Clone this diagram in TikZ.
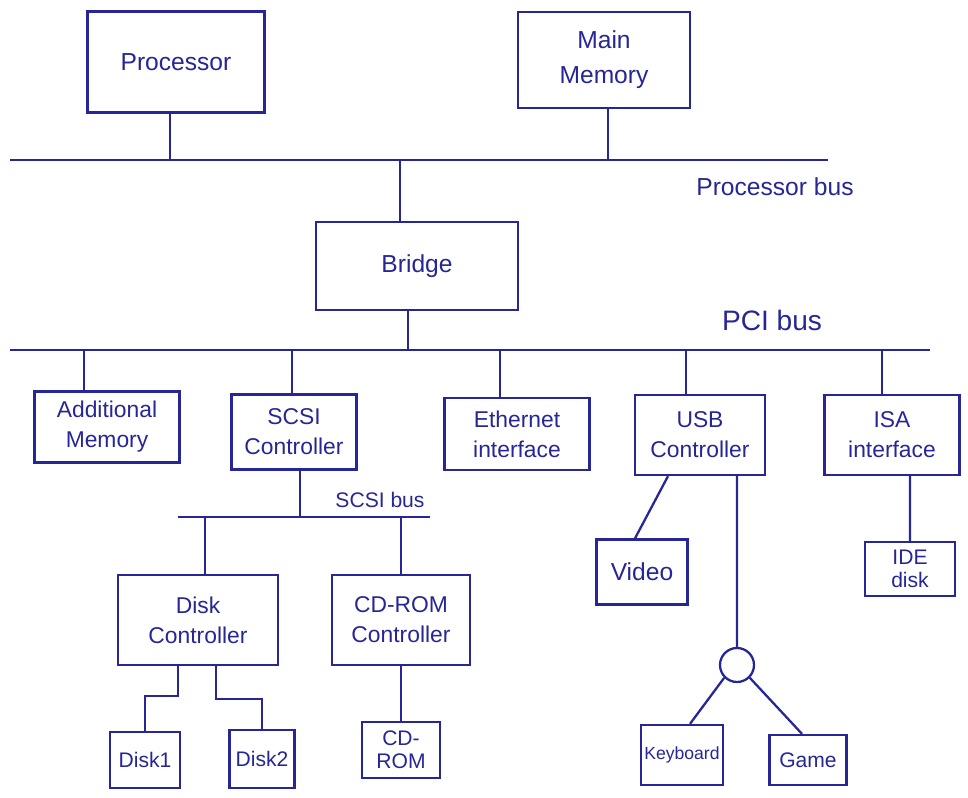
\documentclass[tikz,border=0pt]{standalone}
\usepackage{fontspec}
\setmainfont{Liberation Sans}
\definecolor{ink}{RGB}{38,38,150}

\begin{document}
\begin{tikzpicture}[x=0.02cm, y=-0.02cm, line width=1.3pt, color=ink,
    box/.style={draw, align=center, inner sep=2pt},
    bigfont/.style={font=\fontsize{14}{20}\selectfont},
    midfont/.style={font=\fontsize{13}{17}\selectfont},
    smallfont/.style={font=\fontsize{12}{13}\selectfont}]
    \useasboundingbox (0,0) rectangle (968,798);

    % Processor, main memory and the processor bus between them.
    \node[box, bigfont, minimum width=3.54cm, minimum height=2.02cm] (proc) at (176,62) {Processor};
    \node[box, bigfont, minimum width=3.44cm, minimum height=1.92cm] (mem) at (604,60) {Main\\Memory};
    \coordinate (pbusW) at (10,160);
    \coordinate (pbusE) at (828,160);
    \draw (pbusW) -- (pbusE);
    \node[bigfont] (pbuslbl) at (775,187) {Processor bus};
    \draw ([xshift=-0.12cm]proc.south) -- ([xshift=-0.12cm]proc.south |- pbusW);
    \draw ([xshift=0.08cm]mem.south) -- ([xshift=0.08cm]mem.south |- pbusW);

    % Bridge down to the PCI bus.
    \node[box, bigfont, minimum width=4.04cm, minimum height=1.76cm] (bridge) at (417,266) {Bridge};
    \draw ([xshift=-0.34cm]bridge.north) -- ([xshift=-0.34cm]bridge.north |- pbusW);
    \coordinate (pciW) at (10,350);
    \coordinate (pciE) at (930,350);
    \draw (pciW) -- (pciE);
    \node[font=\fontsize{16}{20}\selectfont] (pcilbl) at (772,320) {PCI bus};
    \draw ([xshift=-0.18cm]bridge.south) -- ([xshift=-0.18cm]bridge.south |- pciW);

    % Devices hanging off the PCI bus.
    \node[box, midfont, minimum width=2.9cm, minimum height=1.42cm] (addmem) at (107,427) {Additional\\Memory};
    \node[box, midfont, minimum width=2.5cm, minimum height=1.5cm] (scsictl) at (294,432) {SCSI\\Controller};
    \node[box, midfont, minimum width=2.9cm, minimum height=1.44cm] (eth) at (517,434) {Ethernet\\interface};
    \node[box, midfont, minimum width=2.6cm, minimum height=1.6cm] (usb) at (700,435) {USB\\Controller};
    \node[box, midfont, minimum width=2.7cm, minimum height=1.6cm] (isa) at (892,435) {ISA\\interface};
    \foreach \n/\dx in {addmem/-0.46cm, scsictl/-0.04cm, eth/-0.34cm, usb/-0.28cm, isa/-0.2cm}
        \draw ([xshift=\dx]\n.north) -- ([xshift=\dx]\n.north |- pciW);

    % SCSI bus with its two controllers.
    \coordinate (scsiW) at (178,517);
    \coordinate (scsiE) at (430,517);
    \draw (scsiW) -- (scsiE);
    \node[smallfont] (scsilbl) at (380,500) {SCSI bus};
    \draw ([xshift=0.12cm]scsictl.south) -- ([xshift=0.12cm]scsictl.south |- scsiW);
    \node[box, midfont, minimum width=3.2cm, minimum height=1.8cm] (diskctl) at (198,620) {Disk\\Controller};
    \node[box, midfont, minimum width=2.76cm, minimum height=1.8cm] (cdctl) at (401,620) {CD-ROM\\Controller};
    \draw ([xshift=0.14cm]diskctl.north) -- ([xshift=0.14cm]diskctl.north |- scsiW);
    \draw (cdctl.north) -- (cdctl.north |- scsiW);

    % Drives
    \node[box, smallfont, minimum width=1.4cm, minimum height=1.12cm] (disk1) at (145,760) {Disk1};
    \node[box, smallfont, minimum width=1.3cm, minimum height=1.16cm] (disk2) at (262,759) {Disk2};
    \node[box, smallfont, minimum width=1.56cm, minimum height=1.12cm] (cdrom) at (401,750) {CD-\\ROM};
    \draw ([xshift=-0.4cm]diskctl.south) -- ++(0,30) -| (disk1.north);
    \draw ([xshift=0.36cm]diskctl.south) -- ++(0,33) -| (disk2.north);
    \draw (cdctl.south) -- (cdrom.north);

    % USB side: video, hub, keyboard and game port.
    \node[box, font=\fontsize{14}{17}\selectfont, minimum width=1.82cm, minimum height=1.3cm] (video) at (642,572) {Video};
    \node[draw, circle, minimum size=0.68cm, inner sep=0pt] (hub) at (737,665) {};
    \node[box, font=\fontsize{10}{12}\selectfont, minimum width=1.6cm, minimum height=1.2cm] (kbd) at (682,755) {Keyboard};
    \node[box, smallfont, minimum width=1.54cm, minimum height=1.0cm] (game) at (808,760) {Game};
    \draw ([xshift=-0.64cm]usb.south) -- ([xshift=-0.14cm]video.north);
    \draw ([xshift=0.74cm]usb.south) -- (hub.north);
    \draw (hub.south west) -- ([xshift=0.16cm]kbd.north);
    \draw (hub.south east) -- ([xshift=-0.12cm]game.north);

    % ISA side
    \node[box, smallfont, minimum width=1.8cm, minimum height=1.08cm] (ide) at (910,569) {IDE\\disk};
    \draw ([xshift=0.36cm]isa.south) -- (ide.north);
\end{tikzpicture}
\end{document}
